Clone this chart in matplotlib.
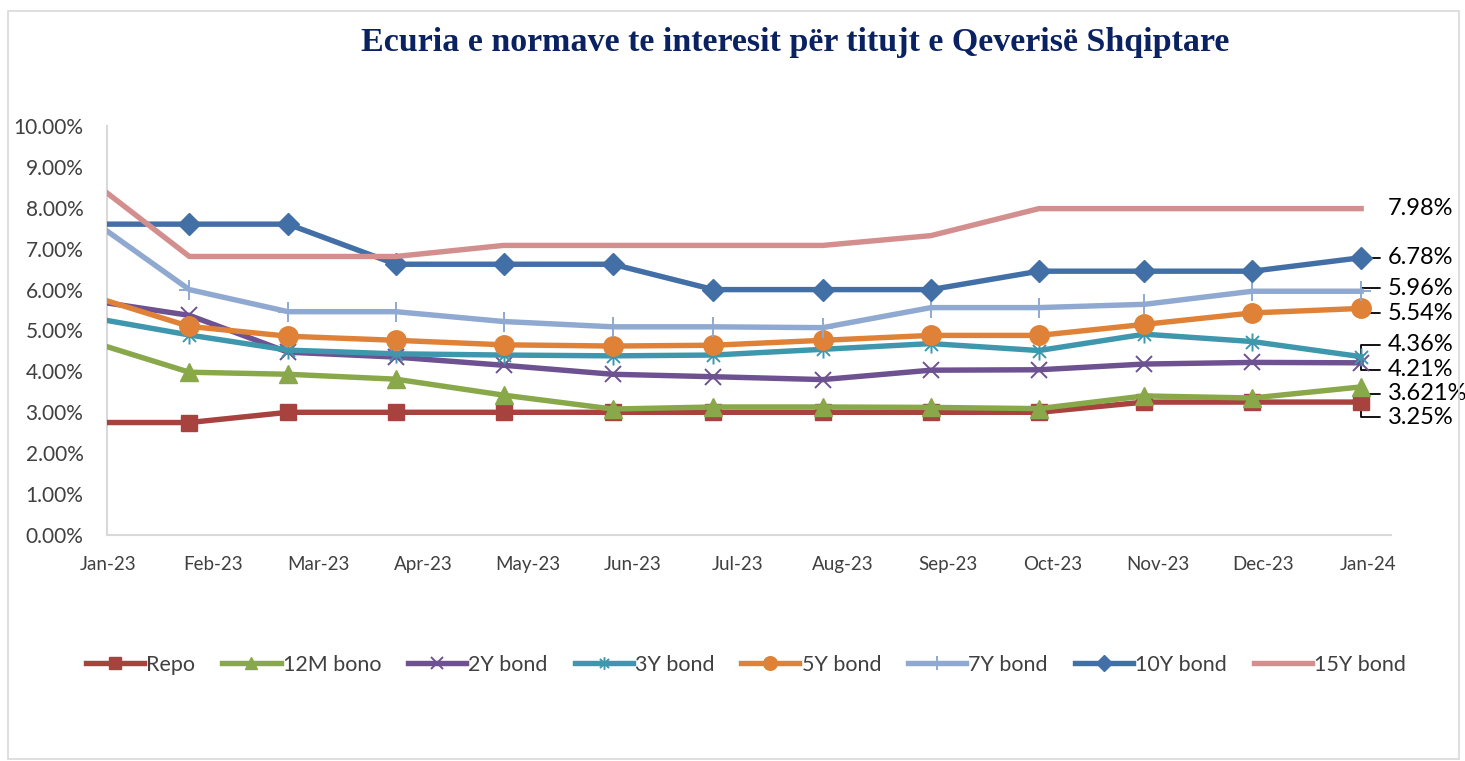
import datetime as dt
import calendar
import matplotlib
matplotlib.use("Agg")
import matplotlib.pyplot as plt
from matplotlib.path import Path
from matplotlib.patches import Rectangle
from matplotlib.ticker import PercentFormatter

# ---------------- data ----------------
title = "Ecuria e normave te interesit për titujt e Qeverisë Shqiptare"
dates = ["2022-12-28", "2023-01-25", "2023-02-21", "2023-03-24", "2023-04-24",
         "2023-05-26", "2023-06-24", "2023-07-26", "2023-08-27", "2023-09-27",
         "2023-10-28", "2023-11-28", "2023-12-30"]
tick_labels = ["Jan-23", "Feb-23", "Mar-23", "Apr-23", "May-23", "Jun-23", "Jul-23",
               "Aug-23", "Sep-23", "Oct-23", "Nov-23", "Dec-23", "Jan-24"]

repo    = [2.75, 2.75, 3.00, 3.00, 3.00, 3.00, 3.00, 3.00, 3.00, 3.00, 3.25, 3.25, 3.25]
bono12m = [4.70, 3.98, 3.93, 3.81, 3.42, 3.08, 3.13, 3.13, 3.12, 3.09, 3.40, 3.35, 3.621]
bond2y  = [5.72, 5.37, 4.47, 4.35, 4.15, 3.93, 3.87, 3.80, 4.03, 4.04, 4.18, 4.22, 4.21]
bond3y  = [5.30, 4.89, 4.52, 4.43, 4.40, 4.38, 4.40, 4.54, 4.68, 4.51, 4.91, 4.73, 4.36]
bond5y  = [5.82, 5.10, 4.86, 4.76, 4.65, 4.62, 4.64, 4.76, 4.88, 4.88, 5.15, 5.43, 5.54]
bond7y  = [7.65, 6.00, 5.46, 5.46, 5.22, 5.09, 5.09, 5.07, 5.56, 5.56, 5.64, 5.96, 5.96]
bond10y = [7.60, 7.60, 7.60, 6.62, 6.62, 6.62, 6.00, 6.00, 6.00, 6.45, 6.45, 6.45, 6.78]
bond15y = [8.60, 6.81, 6.81, 6.81, 7.08, 7.08, 7.08, 7.08, 7.32, 7.98, 7.98, 7.98, 7.98]

series_names = ["Repo", "12M bono", "2Y bond", "3Y bond", "5Y bond", "7Y bond", "10Y bond", "15Y bond"]
end_labels = ["3.25%", "3.621%", "4.21%", "4.36%", "5.54%", "5.96%", "6.78%", "7.98%"]

# ---------------- style ----------------
colors = ["#A8423F", "#88A84A", "#6D5190", "#3E97AD", "#DF8238", "#8FA9D1", "#436FA7", "#D38F8E"]

star = Path([(0, -1), (0, 1), (-0.72, -0.72), (0.72, 0.72), (-0.72, 0.72), (0.72, -0.72)],
            [Path.MOVETO, Path.LINETO, Path.MOVETO, Path.LINETO, Path.MOVETO, Path.LINETO])
markers = ["s", "^", "x", star, "o", "+", "D", None]
msizes = [12, 13, 12, 13, 14, 14, 11, 0]
mew = [1, 1, 1.4, 1.4, 1, 1.4, 1, 1]
label_offsets = [(27, -15), (27, -7), (27, -7), (27, 12), (27, -5), (27, 3), (27, 0), (27, 0)]
draw_leader = [True, True, True, True, True, True, True, False]

plt.rcParams['font.family'] = ['Lato', 'DejaVu Sans']


def month_pos(s):
    d = dt.date.fromisoformat(s)
    ndays = calendar.monthrange(d.year, d.month)[1]
    return (d.year - 2023) * 12 + (d.month - 1) + (d.day - 1) / ndays


x = [month_pos(s) for s in dates]
all_series = [repo, bono12m, bond2y, bond3y, bond5y, bond7y, bond10y, bond15y]

W, H = 1465, 761
fig = plt.figure(figsize=(W / 100, H / 100), dpi=100)
fig.patch.set_facecolor("white")
ax = fig.add_axes([107 / W, 1 - 535 / H, (1391 - 107) / W, (535 - 126) / H])

for i, (vals, name) in enumerate(zip(all_series, series_names)):
    ax.plot(x, vals, color=colors[i], lw=3.9, marker=markers[i], markersize=msizes[i],
            markeredgewidth=mew[i], markerfacecolor=colors[i], markeredgecolor=colors[i],
            label=name, zorder=3 + i, clip_on=True)
    dx, dy = label_offsets[i]
    arrow = dict(arrowstyle="-", color="black", lw=1.3, shrinkA=4, shrinkB=2,
                 connectionstyle="angle,angleA=0,angleB=90,rad=0") if draw_leader[i] else None
    ax.annotate(end_labels[i], xy=(x[-1], vals[-1]), xytext=(dx, dy), textcoords="offset pixels",
                ha="left", va="center", fontsize=17, color="black", arrowprops=arrow,
                annotation_clip=False, zorder=2)

ax.set_xlim(-0.01, 12.22)
ax.set_ylim(0, 10)
ax.set_xticks(range(len(tick_labels)))
ax.set_xticklabels(tick_labels, fontsize=13.5, color="#404040")
ax.set_yticks(range(0, 11))
ax.yaxis.set_major_formatter(PercentFormatter(decimals=2))
ax.tick_params(axis="y", labelsize=15, labelcolor="#404040", length=0, pad=17)
ax.tick_params(axis="x", length=0, pad=15)
for side in ["top", "right"]:
    ax.spines[side].set_visible(False)
for side in ["left", "bottom"]:
    ax.spines[side].set_color("#D9D9D9")
    ax.spines[side].set_linewidth(1.5)

fig.text(795 / W, 1 - 42 / H, title, ha="center", va="center", fontsize=24.5,
         fontweight="bold", color="#0B2262", family=["Liberation Serif"])

handles, labels = ax.get_legend_handles_labels()
fig.legend(handles, labels, loc="center", bbox_to_anchor=(746 / W, 1 - 665 / H), ncol=8,
           frameon=False, fontsize=15.5, handlelength=2.7, columnspacing=1.25, handletextpad=0.1,
           markerscale=0.7, labelcolor="#404040")

fig.patches.append(Rectangle((8 / W, 0.002), (W - 14) / W, 1 - 11 / H - 0.002, transform=fig.transFigure,
                             fill=False, edgecolor="#D9D9D9", lw=1.2))

fig.savefig("out.png", dpi=100, facecolor="white")
